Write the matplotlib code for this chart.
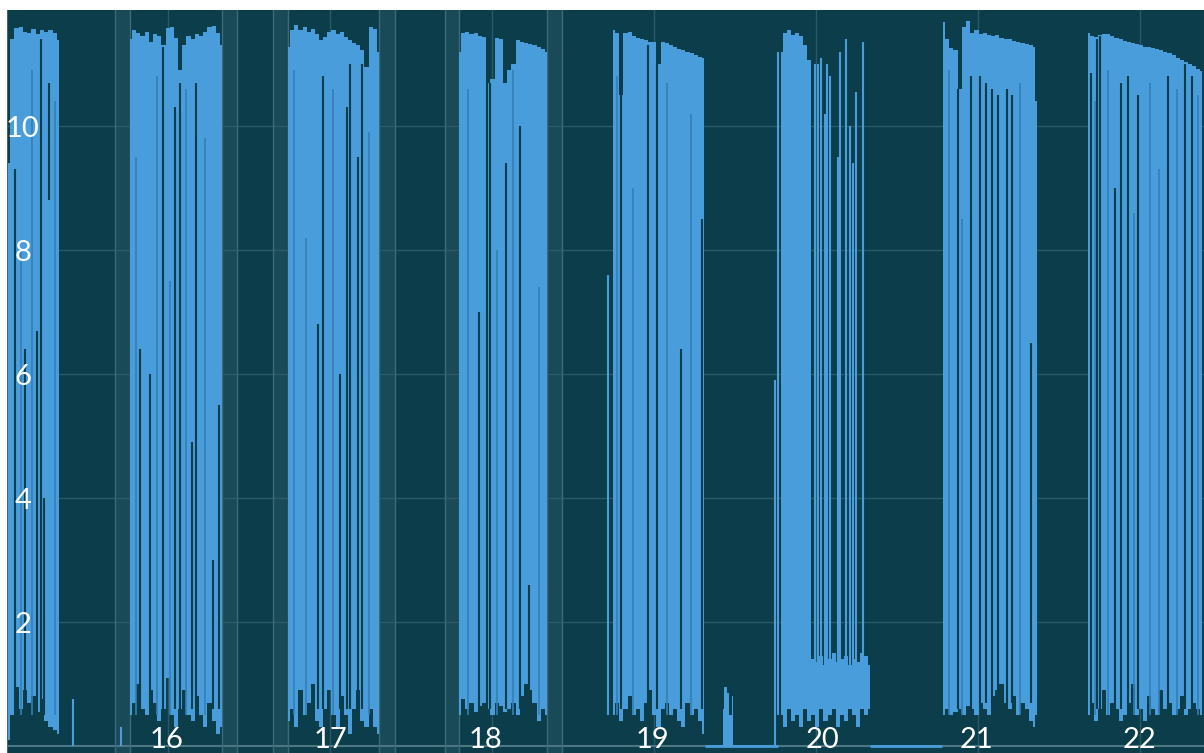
import numpy as np
import matplotlib
matplotlib.use('Agg')
import matplotlib.pyplot as plt
import matplotlib.transforms as mtransforms


# Active blocks: start / end day, upper and lower envelope of the signal

a_span = [15.012, 15.327]
a_top = [9.4, 11.4, 11.58, 11.6, 11.52, 11.5, 11.57, 11.48, 11.55, 11.52, 11.55, 11.5, 11.38]
a_bot = [0.1, 0.5, 0.95, 0.6, 0.9, 0.7, 0.8, 0.55, 0.75, 0.4, 0.3, 0.25, 0.2]

b_span = [15.765, 16.333]
b_top = [11.4, 11.55, 11.5, 11.45, 11.52, 11.35, 11.48, 11.45, 11.3, 11.58, 11.6, 11.42,
         10.9, 11.3, 11.45, 11.4, 11.48, 11.45, 11.52, 11.6, 11.62, 11.5, 11.3]
b_bot = [0.5, 0.7, 1.0, 0.6, 0.5, 0.9, 0.7, 0.4, 0.6, 1.1, 0.5, 0.3,
         0.6, 0.9, 0.5, 0.4, 0.8, 0.5, 0.3, 0.7, 0.4, 0.2, 0.3]

c_span = [16.741, 17.302]
c_top = [11.28, 11.55, 11.63, 11.55, 11.6, 11.52, 11.57, 11.49, 11.39, 11.44, 11.52, 11.55,
         11.49, 11.52, 11.44, 11.39, 11.33, 11.3, 11.23, 10.95, 11.6, 11.57, 11.2]
c_bot = [0.4, 0.6, 0.3, 0.9, 0.5, 0.7, 1.0, 0.4, 0.3, 0.6, 0.9, 0.5,
         0.3, 0.8, 0.5, 0.2, 0.6, 0.9, 0.4, 0.3, 0.6, 0.3, 0.2]

d_span = [17.796, 18.340]
d_top = [11.2, 11.5, 11.52, 11.48, 11.5, 11.45, 11.44, 10.7, 10.75, 11.42, 11.4,
         10.7, 10.9, 11.0, 11.38, 11.36, 11.34, 11.32, 11.3, 11.27, 11.24, 11.2]
d_bot = [0.5, 0.75, 0.6, 0.7, 0.55, 0.65, 0.7, 0.6, 0.5, 0.7, 0.65,
         0.55, 0.6, 0.7, 0.5, 0.8, 1.0, 0.9, 0.7, 0.4, 0.6, 0.5]

e_span = [18.747, 19.309]
e_top = [11.55, 11.5, 10.5, 11.5, 11.52, 11.45, 11.42, 11.4, 11.38, 11.36, 11.35, 11.0,
         11.35, 11.34, 11.3, 11.27, 11.24, 11.22, 11.2, 11.17, 11.15, 11.12, 11.1]
e_bot = [0.5, 0.7, 0.4, 0.6, 0.8, 0.5, 0.6, 0.4, 0.7, 0.9, 0.5, 0.3,
         0.6, 0.7, 0.5, 0.6, 0.4, 0.3, 0.7, 0.5, 0.6, 0.4, 0.2]

burst_span = [19.426, 19.488]
burst_top = [0.6, 0.95, 0.85, 0.5, 0.8]
burst_bot = [0.0, 0.0, 0.0, 0.0, 0.0]

f_span = [19.784, 20.333]
f_top = [11.2, 11.5, 11.55, 11.47, 11.5, 11.45, 11.3, 11.06, 1.4, 1.35, 1.45, 1.3,
         1.4, 1.5, 1.35, 1.4, 1.45, 1.3, 1.4, 1.35, 1.5, 1.45, 1.3]
f_bot = [0.5, 0.3, 0.6, 0.4, 0.5, 0.3, 0.6, 0.4, 0.5, 0.3, 0.6, 0.4,
         0.5, 0.6, 0.3, 0.5, 0.4, 0.6, 0.5, 0.3, 0.6, 0.5, 0.6]

g_span = [20.784, 21.352]
g_top = [11.68, 11.4, 11.25, 11.22, 10.6, 11.6, 11.7, 11.5, 11.55, 11.48, 11.5, 11.47,
         11.45, 11.46, 11.42, 11.4, 11.4, 11.37, 11.35, 11.33, 11.32, 11.3, 11.27]
g_bot = [0.5, 0.6, 0.5, 0.55, 0.6, 0.5, 0.65, 0.6, 0.5, 0.7, 0.6, 0.5,
         0.8, 0.9, 1.0, 0.7, 0.6, 0.8, 0.5, 0.7, 0.6, 0.4, 0.3]

h_span = [21.679, 22.383]
h_top = [11.5, 11.45, 11.44, 11.47, 11.49, 11.48, 11.45, 11.42, 11.4, 11.37, 11.35, 11.33,
         11.32, 11.3, 11.28, 11.27, 11.25, 11.24, 11.22, 11.2, 11.17, 11.14, 11.1, 11.07,
         11.03, 11.0, 10.96, 10.92, 10.88]
h_bot = [0.5, 0.7, 0.4, 0.6, 0.9, 0.5, 0.7, 0.6, 0.4, 0.5, 0.7, 1.0,
         0.5, 0.6, 0.4, 0.8, 0.6, 0.5, 0.9, 0.6, 0.7, 0.5, 0.6, 0.8,
         0.5, 0.6, 0.7, 0.6, 0.5]

# stretches where the signal drops out inside a block (x, low, high)
gap_x = [15.056, 15.117, 15.191, 15.216, 15.235, 15.265,
         15.827, 15.889, 15.969, 16.043, 16.074, 16.148, 16.173, 16.278, 16.315,
         16.926, 16.957, 17.062, 17.105, 17.123, 17.173, 17.198,
         17.920, 17.969, 17.988, 18.086, 18.173, 18.228,
         18.796, 18.963, 19.019, 19.167, 19.296,
         20.877, 20.957, 21.012, 21.049, 21.086, 21.123, 21.179, 21.210, 21.327,
         21.698, 21.735, 21.753, 21.846, 21.883, 21.926, 21.988, 22.173, 22.278, 22.321]
gap_lo = [0.5, 0.5, 0.5, 0.5, 0.5, 8.8,
          0.6, 0.6, 0.6, 0.6, 0.6, 0.6, 0.6, 0.6, 0.6,
          0.6, 0.6, 0.6, 0.6, 0.6, 0.6, 0.6,
          0.6, 0.6, 0.6, 0.6, 0.6, 0.6,
          0.6, 0.6, 0.6, 0.6, 0.6,
          0.6, 0.6, 0.7, 0.7, 0.7, 0.7, 0.7, 0.7, 0.7,
          0.6, 0.6, 0.6, 0.6, 0.6, 0.6, 0.6, 0.6, 0.6, 0.6]
gap_hi = [9.3, 6.4, 6.7, 11.4, 4.0, 10.7,
          6.4, 6.0, 11.27, 10.3, 10.7, 4.9, 10.7, 3.0, 5.5,
          6.8, 10.8, 6.0, 10.3, 11.0, 9.5, 11.0,
          7.0, 10.7, 10.7, 9.4, 10.0, 2.6,
          10.5, 11.3, 11.0, 6.4, 8.5,
          10.6, 10.8, 10.8, 10.7, 10.6, 10.5, 10.6, 10.5, 6.5,
          10.85, 11.4, 11.45, 9.0, 10.7, 10.8, 10.5, 10.8, 11.0, 10.8]

# fainter stripes, where the signal is only partly out
shade_x = [15.090, 15.160, 15.300,
           15.800, 15.930, 16.010, 16.110, 16.230,
           16.780, 16.850, 17.020, 17.240,
           17.850, 18.030, 18.130, 18.290,
           18.770, 18.870, 19.080, 19.230,
           20.820, 20.900, 21.260,
           21.720, 21.800, 21.960, 22.060, 22.120, 22.230, 22.360]
shade_lo = [0.5] * len(shade_x)
shade_hi = [8.0, 10.9, 10.4,
            9.5, 10.8, 7.5, 10.6, 9.8,
            10.9, 8.2, 10.6, 9.9,
            10.6, 8.0, 10.9, 7.4,
            10.8, 9.0, 10.7, 10.2,
            10.9, 8.5, 10.7,
            10.4, 10.9, 8.6, 10.7, 9.3, 10.6, 10.5]

# single spikes outside the solid parts (x, low, high)
spike_x = [15.414, 15.710, 18.716, 19.747, 19.765, 19.994, 20.012, 20.031, 20.056, 20.068,
           20.086, 20.136, 20.148, 20.185, 20.210, 20.228, 20.247, 20.290, 21.358]
spike_lo = [0.0, 0.0, 0.5, 0.0, 0.5, 1.0, 1.0, 1.0, 1.0, 1.0,
            1.0, 1.0, 1.0, 1.0, 1.0, 1.0, 1.0, 1.0, 0.5]
spike_hi = [0.75, 0.3, 7.6, 5.9, 11.2, 11.0, 11.0, 11.1, 10.2, 11.0,
            10.8, 9.5, 11.2, 11.4, 10.0, 9.4, 10.55, 11.35, 10.4]

# signal sitting at zero
zero_start = [19.315, 20.333]
zero_end = [19.765, 20.778]

# shaded annotation bands
band_start = [15.673, 16.333, 16.648, 17.302, 17.710, 18.340]
band_end = [15.765, 16.426, 16.741, 17.401, 17.796, 18.432]

y_ticks = [2, 4, 6, 8, 10]
day_ticks = [16, 17, 18, 19, 20, 21, 22]
day_label_x = [15.994, 17.0, 17.957, 18.988, 20.037, 20.988, 21.994]

blocks = [(a_span, a_top, a_bot), (b_span, b_top, b_bot), (c_span, c_top, c_bot),
          (d_span, d_top, d_bot), (e_span, e_top, e_bot), (burst_span, burst_top, burst_bot),
          (f_span, f_top, f_bot), (g_span, g_top, g_bot), (h_span, h_top, h_bot)]

BG = '#0c3d4b'
BLUE = '#499ddb'
GRID = '#2a5a67'

fig = plt.figure(figsize=(12.04, 7.53), dpi=100, facecolor='white')
ax = fig.add_axes([7 / 1204, 0, 1197 / 1204, 743 / 753])
ax.set_facecolor(BG)
ax.set_xlim(15.006, 22.395)
ax.set_ylim(-0.113, 11.87)

# grid
for v in y_ticks:
    ax.axhline(v, color=GRID, lw=1.0, zorder=1)
for d in day_ticks:
    ax.axvline(d, color=GRID, lw=1.0, zorder=1)
ax.axvline(15.006, color='#3d6a76', lw=1.5, zorder=1)
ax.axhline(0, color='#4b7682', lw=1.5, zorder=1)

for s, e in zip(band_start, band_end):
    ax.axvspan(s, e, color='#194a58', lw=0, zorder=0.5)
    ax.axvline(s, color='#3d6a76', lw=1.0, zorder=1)
    ax.axvline(e, color='#3d6a76', lw=1.0, zorder=1)

for s, e in zip(zero_start, zero_end):
    ax.plot([s, e], [0, 0], color=BLUE, lw=2.0, zorder=2, solid_capstyle='butt')

# signal
for span, top, bot in blocks:
    x = np.linspace(span[0], span[1], len(top))
    ax.fill_between(x, bot, top, step='mid', color=BLUE, lw=0, zorder=3)

ax.vlines(shade_x, shade_lo, shade_hi, color='#3480b8', lw=1.2, zorder=3.5)
ax.vlines(gap_x, gap_lo, gap_hi, color=BG, lw=1.5, zorder=4)
ax.vlines(spike_x, spike_lo, spike_hi, color=BLUE, lw=1.5, zorder=4)

# labels
font = dict(family=['Lato', 'DejaVu Sans'], color='white', fontsize=21)
ytrans = mtransforms.blended_transform_factory(ax.transAxes, ax.transData)
for v in y_ticks:
    ax.text(16 / 1197, v - 0.18, str(v), transform=ytrans, ha='center', va='baseline',
            zorder=6, **font)
for d, xl in zip(day_ticks, day_label_x):
    ax.text(xl, -0.113, str(d), ha='center', va='bottom', zorder=6, **font)

ax.set_xticks([])
ax.set_yticks([])
for sp in ax.spines.values():
    sp.set_visible(False)

plt.savefig('out.png', dpi=100, facecolor='white')
